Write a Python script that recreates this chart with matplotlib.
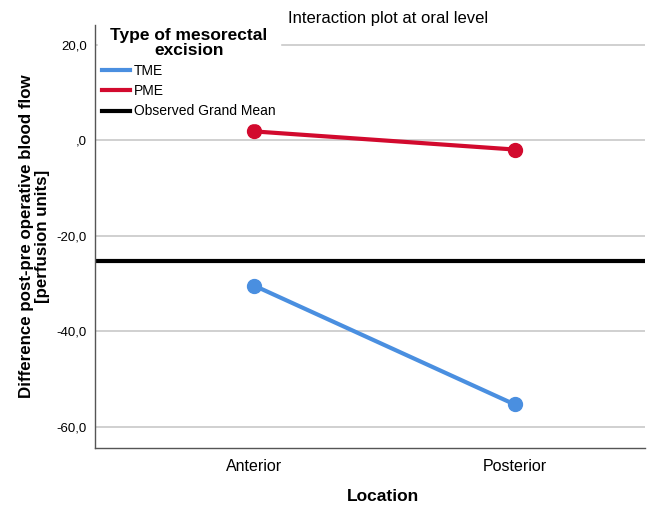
import matplotlib.pyplot as plt
from matplotlib.lines import Line2D

plt.rcParams['font.family'] = ['Liberation Sans', 'DejaVu Sans']

locations = ["Anterior", "Posterior"]
tme = [-30.4, -55.3]
pme = [1.9, -1.9]
grand_mean = -25.2
yticks = [20, 0, -20, -40, -60]
ytick_labels = ["20,0", ",0", "-20,0", "-40,0", "-60,0"]

blue = "#4a8fe0"
red = "#d20a2e"


def main():
    fig = plt.figure(figsize=(6.47, 5.09), dpi=100)
    ax = fig.add_axes([0.147, 0.12, 0.85, 0.831])

    x = list(range(len(locations)))
    ax.axhline(grand_mean, color="black", lw=3, zorder=2)
    ax.plot(x, tme, color=blue, lw=3, marker="o", ms=10, zorder=3)
    ax.plot(x, pme, color=red, lw=3, marker="o", ms=10, zorder=3)

    ax.set_xlim(-0.61, 1.5)
    ax.set_ylim(-64.4, 24.2)
    ax.set_xticks(x)
    ax.set_xticklabels(locations, fontsize=11.5)
    ax.set_yticks(yticks)
    ax.set_yticklabels(ytick_labels, fontsize=9.5)
    ax.tick_params(length=0, pad=6)
    ax.tick_params(axis="x", pad=8)
    ax.grid(axis="y", color="#c8c8c8", lw=1.2)
    ax.set_axisbelow(True)
    for s in ["top", "right"]:
        ax.spines[s].set_visible(False)
    for s in ["left", "bottom"]:
        ax.spines[s].set_color("#555555")
        ax.spines[s].set_linewidth(1)

    ax.set_xlabel("Location", fontsize=12.5, fontweight="bold")
    ax.xaxis.set_label_coords(0.524, -0.097)
    ax.set_ylabel("Difference post-pre operative blood flow\n[perfusion units]",
                  fontsize=12.2, fontweight="bold", linespacing=1.1)
    ax.yaxis.set_label_coords(-0.082, 0.5)
    fig.text(0.6, 0.963, "Interaction plot at oral level", fontsize=12,
             ha="center", va="center")

    handles = [Line2D([], [], color=blue, lw=3),
               Line2D([], [], color=red, lw=3),
               Line2D([], [], color="black", lw=3)]
    leg = ax.legend(handles, ["TME", "PME", "Observed Grand Mean"],
                    title="Type of mesorectal\nexcision", loc="upper left",
                    bbox_to_anchor=(0.0, 1.01), frameon=True, fontsize=10,
                    handlelength=2.0, handletextpad=0.3, labelspacing=0.45,
                    borderpad=0.3, borderaxespad=0.2)
    leg.get_frame().set_edgecolor("white")
    leg.get_frame().set_facecolor("white")
    leg.get_frame().set_alpha(1)
    leg.get_title().set_fontsize(12.5)
    leg.get_title().set_fontweight("bold")
    leg.get_title().set_linespacing(1.0)
    leg.get_title().set_multialignment("center")

    fig.savefig("out.png", dpi=100)


if __name__ == "__main__":
    main()
